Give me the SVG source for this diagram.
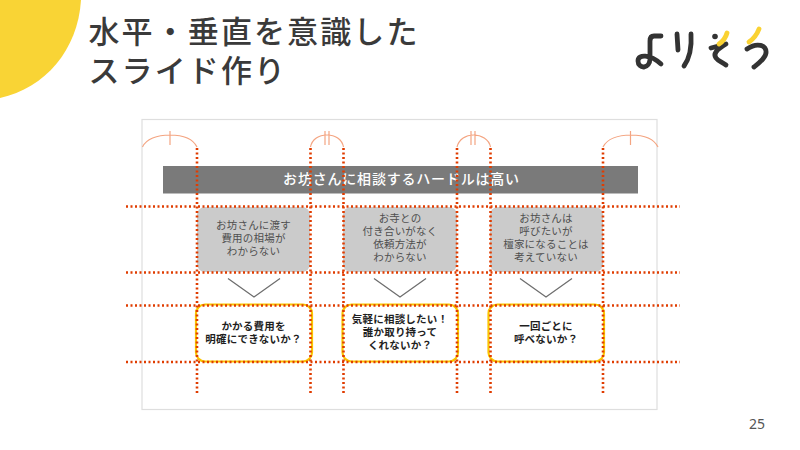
<svg xmlns="http://www.w3.org/2000/svg" width="800" height="450" viewBox="0 0 800 450">
<style>
text{font-family:"Noto Sans CJK JP","Noto Sans",sans-serif;text-anchor:middle}
.title{font-size:31px;font-weight:500;fill:#3a3a3a;letter-spacing:2.100px;text-anchor:start}
.g{font-size:10.500px;fill:#4f4f4f;letter-spacing:.2px}
.y{font-size:10.500px;font-weight:700;fill:#1f1f1f;letter-spacing:.2px}
.arc{fill:none;stroke:#f4a582;stroke-width:1.200}
.dot{fill:none;stroke:#e03c00;stroke-width:2.600;stroke-dasharray:2 2.500}
.gb{fill:#cbcbcb}
.yb{fill:#fff;stroke:#fbc400;stroke-width:2.200}
.chev{fill:none;stroke:#6e6e6e;stroke-width:1.300}
.lk{fill:none;stroke:#333;stroke-width:4.800;stroke-linecap:round;stroke-linejoin:round}
.ly{fill:none;stroke:#fad232;stroke-width:4.800;stroke-linecap:round}
</style>
<rect width="800" height="450" fill="#fff"/>
<path id="corner" d="M0 0H81C78 50 45 88 0 98Z" fill="#f9d435"/>
<g id="title">
<text class="title" x="88.500" y="43">水平・垂直を意識した</text>
<text class="title" x="88.500" y="82">スライド作り</text>
</g>
<g id="logo">
<path class="lk" d="M661 36H654Q650 36 650 41V58C650 70 638 69 638 61C638 54 650 54 661 64"/>
<path class="lk" d="M677 34L678 50M691 34C692 50 689 59 684 66"/>
<circle cx="715" cy="36.500" r="2.800" fill="#333"/>
<path class="lk" d="M711 48L726 44C716 50 713 54 716 58C718 61 722 62 726 65"/>
<path class="ly" d="M719 44Q725 40 727 33"/>
<path class="lk" d="M747 49C757 42 767 45 766 53C765 59 758 64 754 67"/>
<path class="ly" d="M749 42Q756 37 759 29"/>
</g>
<text id="page" x="757" y="429" font-size="14px" fill="#555" style="font-family:'Noto Sans',sans-serif">25</text>
<rect id="frame" x="142" y="119.500" width="515" height="290" fill="#fff" stroke="#dedede" stroke-width="1.200"/>
<g id="braces">
<path class="arc" d="M142.500 147C146 139 157 135 170 135S193 139 197 147M170 131V145"/>
<path class="arc" d="M310.500 147C312 139 319 135 327 135S342 139 343.500 147M325 131V145M329 131V145"/>
<path class="arc" d="M457 147C459 139 466 135 473.500 135S489 139 490.500 147M471 131V145M475 131V145"/>
<path class="arc" d="M603 147C607 139 618 135 631 135S654 139 658 147M630.500 131V145"/>
</g>
<g id="banner">
<rect x="163" y="166" width="475" height="27.500" fill="#7a7a7a"/>
<text x="401.500" y="183.500" font-size="14px" font-weight="500" fill="#fff" letter-spacing=".8">お坊さんに相談するハードルは高い</text>
</g>
<g id="need1">
<rect class="gb" x="197" y="207" width="113" height="65" rx="8"/>
<text class="g" x="253.500" y="229">お坊さんに渡す</text><text class="g" x="253.500" y="242">費用の相場が</text><text class="g" x="253.500" y="255">わからない</text>
</g>
<g id="need2">
<rect class="gb" x="343" y="207" width="114" height="65" rx="8"/>
<text class="g" x="400" y="222">お寺との</text><text class="g" x="400" y="235">付き合いがなく</text><text class="g" x="400" y="248">依頼方法が</text><text class="g" x="400" y="261">わからない</text>
</g>
<g id="need3">
<rect class="gb" x="490" y="207" width="113" height="65" rx="8"/>
<text class="g" x="546" y="222">お坊さんは</text><text class="g" x="546" y="235">呼びたいが</text><text class="g" x="546" y="248">檀家になることは</text><text class="g" x="546" y="261">考えていない</text>
</g>
<g id="chevrons">
<path class="chev" d="M228 278.500L254 297L280 278.500"/>
<path class="chev" d="M374 278.500L400 297L426 278.500"/>
<path class="chev" d="M520 278.500L546 297L572 278.500"/>
</g>
<g id="idea1">
<rect class="yb" x="196" y="304.500" width="116" height="57" rx="9"/>
<text class="y" x="253.500" y="330">かかる費用を</text><text class="y" x="253.500" y="343">明確にできないか？</text>
</g>
<g id="idea2">
<rect class="yb" x="342.500" y="304.500" width="115.500" height="57" rx="9"/>
<text class="y" x="400" y="323">気軽に相談したい！</text><text class="y" x="400" y="336">誰か取り持って</text><text class="y" x="400" y="349">くれないか？</text>
</g>
<g id="idea3">
<rect class="yb" x="488.500" y="304.500" width="115.500" height="57" rx="9"/>
<text class="y" x="546" y="330">一回ごとに</text><text class="y" x="546" y="343">呼べないか？</text>
</g>
<g id="connectors">
<path class="dot" d="M197 148V395M310.500 148V395M343.500 148V395M457 148V395M490.500 148V395M603 148V395"/>
<path class="dot" d="M126 206.500H680M126 272.500H680M126 305.500H680M126 362H680"/>
</g>
</svg>
